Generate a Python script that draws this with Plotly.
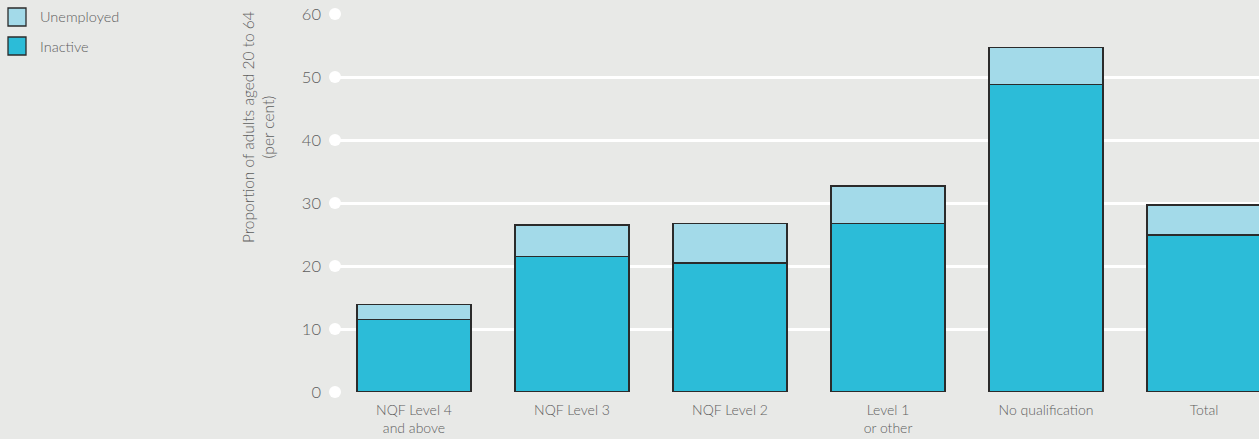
import plotly.graph_objects as go

# Share of adults aged 20 to 64 who are out of work, by highest qualification
categories = ["NQF Level 4<br>and above", "NQF Level 3", "NQF Level 2",
              "Level 1<br>or other", "No qualification", "Total"]
inactive = [11.5, 21.5, 20.5, 26.8, 48.8, 24.9]
unemployed = [2.4, 5.0, 6.2, 5.9, 5.9, 4.8]
y_ticks = [0, 10, 20, 30, 40, 50, 60]
legend_names = ["Unemployed", "Inactive"]

BG = "#E8E9E7"
C_INACTIVE = "#2CBCD8"
C_UNEMP = "#A3DAE9"
EDGE = "#2B2B2B"
TXT = "#5E5E5E"
FONT = "Lato"

W, H = 1259, 439
M_L, M_R, M_T, M_B = 335, 0, 14, 47
PW, PH = W - M_L - M_R, H - M_T - M_B


def px_x(px):
    return (px - M_L) / PW


def px_y(py):
    return (H - M_B - py) / PH


x = list(range(len(categories)))

fig = go.Figure()
fig.add_bar(x=x, y=inactive, name="Inactive",
            marker=dict(color=C_INACTIVE, line=dict(color=EDGE, width=1.3)),
            width=0.72, showlegend=False)
fig.add_bar(x=x, y=unemployed, name="Unemployed",
            marker=dict(color=C_UNEMP, line=dict(color=EDGE, width=1.3)),
            width=0.72, showlegend=False)

# white dots at the left end of each gridline
fig.add_scatter(x=[-0.5] * len(y_ticks), y=y_ticks, mode="markers",
                marker=dict(color="white", size=12), cliponaxis=False,
                showlegend=False, hoverinfo="skip")

# key in the top-left corner
shapes, annotations = [], []
for i, (name, col) in enumerate(zip(legend_names, [C_UNEMP, C_INACTIVE])):
    top = 8 + 29 * i
    shapes.append(dict(type="rect", xref="paper", yref="paper",
                       x0=px_x(8), x1=px_x(26), y0=px_y(top + 18), y1=px_y(top),
                       fillcolor=col, line=dict(color=EDGE, width=1.3)))
    annotations.append(dict(text=name, xref="paper", yref="paper",
                            x=px_x(38), y=px_y(top + 9), xanchor="left", yanchor="middle",
                            showarrow=False, font=dict(size=14.5, color=TXT)))

annotations.append(dict(text="Proportion of adults aged 20 to 64<br>(per cent)",
                        textangle=-90, xref="paper", yref="paper",
                        x=px_x(258), y=px_y(9), xanchor="center", yanchor="top",
                        showarrow=False, font=dict(size=15.5, color=TXT)))

fig.update_layout(
    width=W, height=H,
    barmode="stack", bargap=0.28,
    paper_bgcolor=BG, plot_bgcolor=BG,
    margin=dict(l=M_L, r=M_R, t=M_T, b=M_B),
    font=dict(family=FONT, color=TXT, size=14, weight=300),
    showlegend=False,
    xaxis=dict(range=[-0.5, 5.348], tickvals=x, ticktext=categories,
               showgrid=False, zeroline=False, showline=False,
               ticks="outside", ticklen=5, tickcolor="rgba(0,0,0,0)",
               tickfont=dict(size=14, color=TXT)),
    yaxis=dict(range=[0, 60], tickvals=y_ticks, showgrid=True, gridcolor="white",
               gridwidth=2.5, zeroline=False, showline=False,
               ticks="", ticklabelstandoff=13,
               tickfont=dict(size=16.5, color=TXT)),
    shapes=shapes,
    annotations=annotations,
)

fig.write_html("out.html")
